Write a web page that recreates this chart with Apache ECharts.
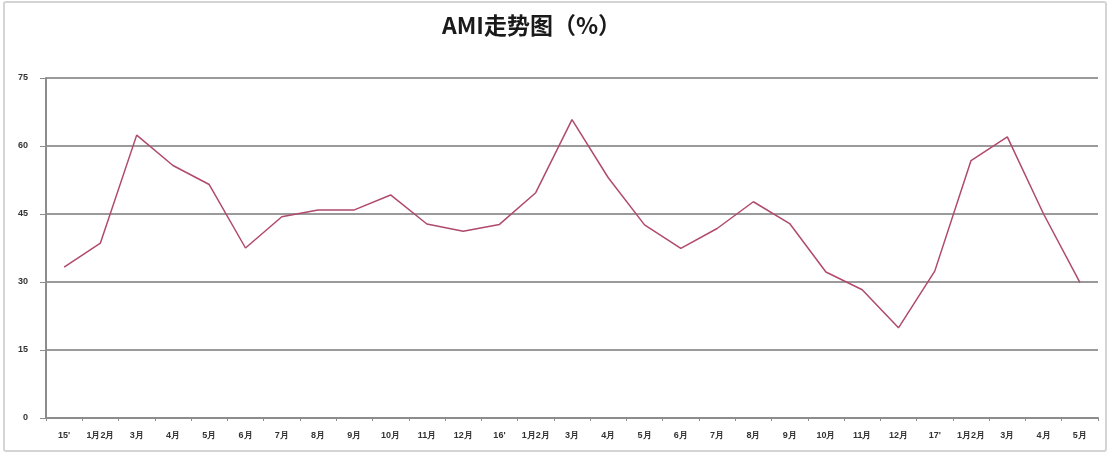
<!DOCTYPE html>
<html>
<head>
<meta charset="utf-8">
<title>AMI走势图</title>
<script src="https://cdn.jsdelivr.net/npm/echarts@6/dist/echarts.min.js"></script>
<style>
  html, body { margin: 0; padding: 0; background: #fff; }
  #frame {
    position: absolute; left: 3px; top: 1px; width: 1104px; height: 451px;
    border: 2px solid #d4d4d4; border-radius: 3px; box-sizing: border-box;
  }
  #chart { position: absolute; left: 0; top: 0; width: 1112px; height: 458px; }
</style>
</head>
<body>
<div id="frame"></div>
<div id="chart"></div>
<script>
// x轴月份
const months = [
  "15'", '1月2月', '3月', '4月', '5月', '6月', '7月', '8月', '9月', '10月', '11月', '12月',
  "16'", '1月2月', '3月', '4月', '5月', '6月', '7月', '8月', '9月', '10月', '11月', '12月',
  "17'", '1月2月', '3月', '4月', '5月'
];
// AMI 数值（%）
const amiValues = [
  33.3, 38.6, 62.4, 55.7, 51.5, 37.5, 44.4, 45.9, 45.9, 49.2, 42.8, 41.2,
  42.7, 49.7, 65.8, 53.0, 42.6, 37.4, 41.8, 47.7, 42.9, 32.2, 28.3, 19.9,
  32.4, 56.8, 62.0, 45.0, 29.9
];
// y轴刻度
const yTicks = [0, 15, 30, 45, 60, 75];

const chart = echarts.init(document.getElementById('chart'));
const option = {
  backgroundColor: 'transparent',
  animation: false,
  title: {
    text: 'AMI走势图（%）',
    left: 437,
    top: 9,
    textStyle: {
      fontFamily: 'Noto Sans CJK SC',
      fontSize: 23,
      fontWeight: 'bold',
      color: '#1a1a1a'
    }
  },
  grid: { left: 46, right: 14, top: 78, bottom: 40 },
  xAxis: {
    type: 'category',
    data: months,
    boundaryGap: true,
    axisLine: { lineStyle: { color: '#8c8c8c', width: 2 } },
    axisTick: { show: true, length: 3, lineStyle: { color: '#8c8c8c' } },
    axisLabel: {
      interval: 0,
      fontSize: 9,
      fontWeight: 'bold',
      color: '#333',
      margin: 13
    },
    splitLine: { show: false }
  },
  yAxis: {
    type: 'value',
    min: yTicks[0],
    max: yTicks[yTicks.length - 1],
    interval: 15,
    axisLine: { show: true, lineStyle: { color: '#8c8c8c', width: 2 } },
    axisTick: { show: true, length: 6, lineStyle: { color: '#8c8c8c' } },
    axisLabel: {
      fontSize: 9,
      fontWeight: 'bold',
      color: '#333',
      margin: 18
    },
    splitLine: { show: true, lineStyle: { color: '#9a9a9a', width: 2 } }
  },
  series: [{
    name: 'AMI',
    type: 'line',
    data: amiValues,
    symbol: 'none',
    lineStyle: { color: '#b04a6a', width: 1.5 }
  }]
};
chart.setOption(option);
</script>
</body>
</html>
